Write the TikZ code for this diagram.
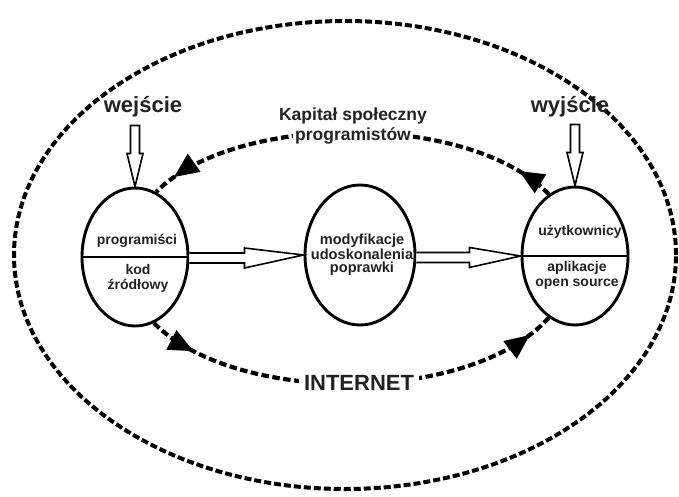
\documentclass[tikz,border=0pt]{standalone}
\usepackage{fontspec}
\setmainfont{Liberation Sans}
\usetikzlibrary{arrows.meta,calc,decorations.markings,shapes.geometric}
\definecolor{txt}{HTML}{222222}
\begin{document}
\begin{tikzpicture}[x=1pt,y=1pt,
  bubble/.style={ellipse, draw, line width=2.9pt, inner sep=0pt},
  outerring/.style={ellipse, draw, line width=4pt, dash pattern=on 7pt off 3pt, inner sep=0pt},
  flow/.style={line width=4.2pt, dash pattern=on 7.5pt off 3.5pt},
  fhead/.tip={Triangle[length=25pt,width=21pt]},
  hollow/.style={draw, line width=1.6pt, line join=miter, fill=white},
  divider/.style={line width=2.2pt},
  intext/.style={font=\fontsize{14}{14.5}\selectfont\bfseries, text=txt, align=center, inner sep=0pt},
  midtext/.style={font=\fontsize{14.6}{13.5}\selectfont\bfseries, text=txt, align=center, inner sep=0pt},
  big/.style={font=\fontsize{22}{24}\selectfont\bfseries, text=txt},
  captext/.style={font=\fontsize{17.5}{20}\selectfont\bfseries, text=txt},
]
\useasboundingbox (0,0) rectangle (679,496);
% outer dashed ring
\node[outerring, minimum width=662pt, minimum height=468pt] (outer) at (345,241) {};
% bubbles
\node[bubble, minimum width=106pt, minimum height=138pt] (L) at (135,239) {};
\node[bubble, minimum width=110pt, minimum height=140pt] (M) at (360,241) {};
\node[bubble, minimum width=106pt, minimum height=138pt] (R) at (575,240) {};
\draw[divider] (L.west) -- (L.east);
\draw[divider] (R.west) -- (R.east);
% texts inside bubbles
\node[intext, anchor=base] (Lt) at (137,252) {programiści};
\node[intext] (Lb) at (138,217.6) {kod\\źródłowy};
\node[midtext] (Mt) at (362,241.2) {modyfikacje\\udoskonalenia\\poprawki};
\node[intext, anchor=base] (Rt) at (580,261) {użytkownicy};
\node[intext] (Rb) at (577,220.6) {aplikacje\\open source};
% hollow arrows
\draw[hollow] ($(L.east)+(0,4)$) -- ++(55,0) -- ++(0,5) -- (M.west) -- ($(L.east)+(55,-11)$) -- ++(0,5) -- ($(L.east)+(0,-6)$);
\draw[hollow] ($(M.east)+(0,2.5)$) -- ++(53,0) -- ++(0,5) -- (R.west) -- ($(M.east)+(53,-12.5)$) -- ++(0,5) -- ($(M.east)+(0,-7.5)$);
\draw[hollow] ($(L.north)+(-4.5,61)$) -- ++(0,-28) -- ++(-3.5,0) -- (L.north) -- ($(L.north)+(8,33)$) -- ++(-3.5,0) -- ++(0,28) -- cycle;
\draw[hollow] ($(R.north)+(-4.5,61)$) -- ++(0,-28) -- ++(-3.5,0) -- (R.north) -- ($(R.north)+(8,33)$) -- ++(-3.5,0) -- ++(0,28) -- cycle;
% dashed flows
\draw[flow, postaction={decorate}, decoration={markings,
   mark=at position 0.09 with {\arrow{fhead}},
   mark=at position 0.945 with {\arrow{fhead}}}]
   (R.113) .. controls (470,384) and (235,384) .. (L.72);
\draw[flow, postaction={decorate}, decoration={markings,
   mark=at position 0.115 with {\arrow{fhead}},
   mark=at position 0.94 with {\arrow{fhead}}}]
   (L.-74) .. controls (235,91) and (470,91) .. (R.-113);
% labels
\node[captext, anchor=base] (k1) at (353,375) {Kapitał społeczny};
\node[captext, anchor=base, fill=white, inner xsep=2pt, inner ysep=1pt] (k2) at (353,355) {programistów};
\node[big, anchor=base, fill=white, inner xsep=5pt, inner ysep=1pt] (inet) at (359,106) {INTERNET};
\node[big, anchor=base, inner sep=0pt] (win) at (143,383) {wejście};
\node[big, anchor=base, inner sep=0pt] (wout) at (570,383) {wyjście};
\end{tikzpicture}
\end{document}
